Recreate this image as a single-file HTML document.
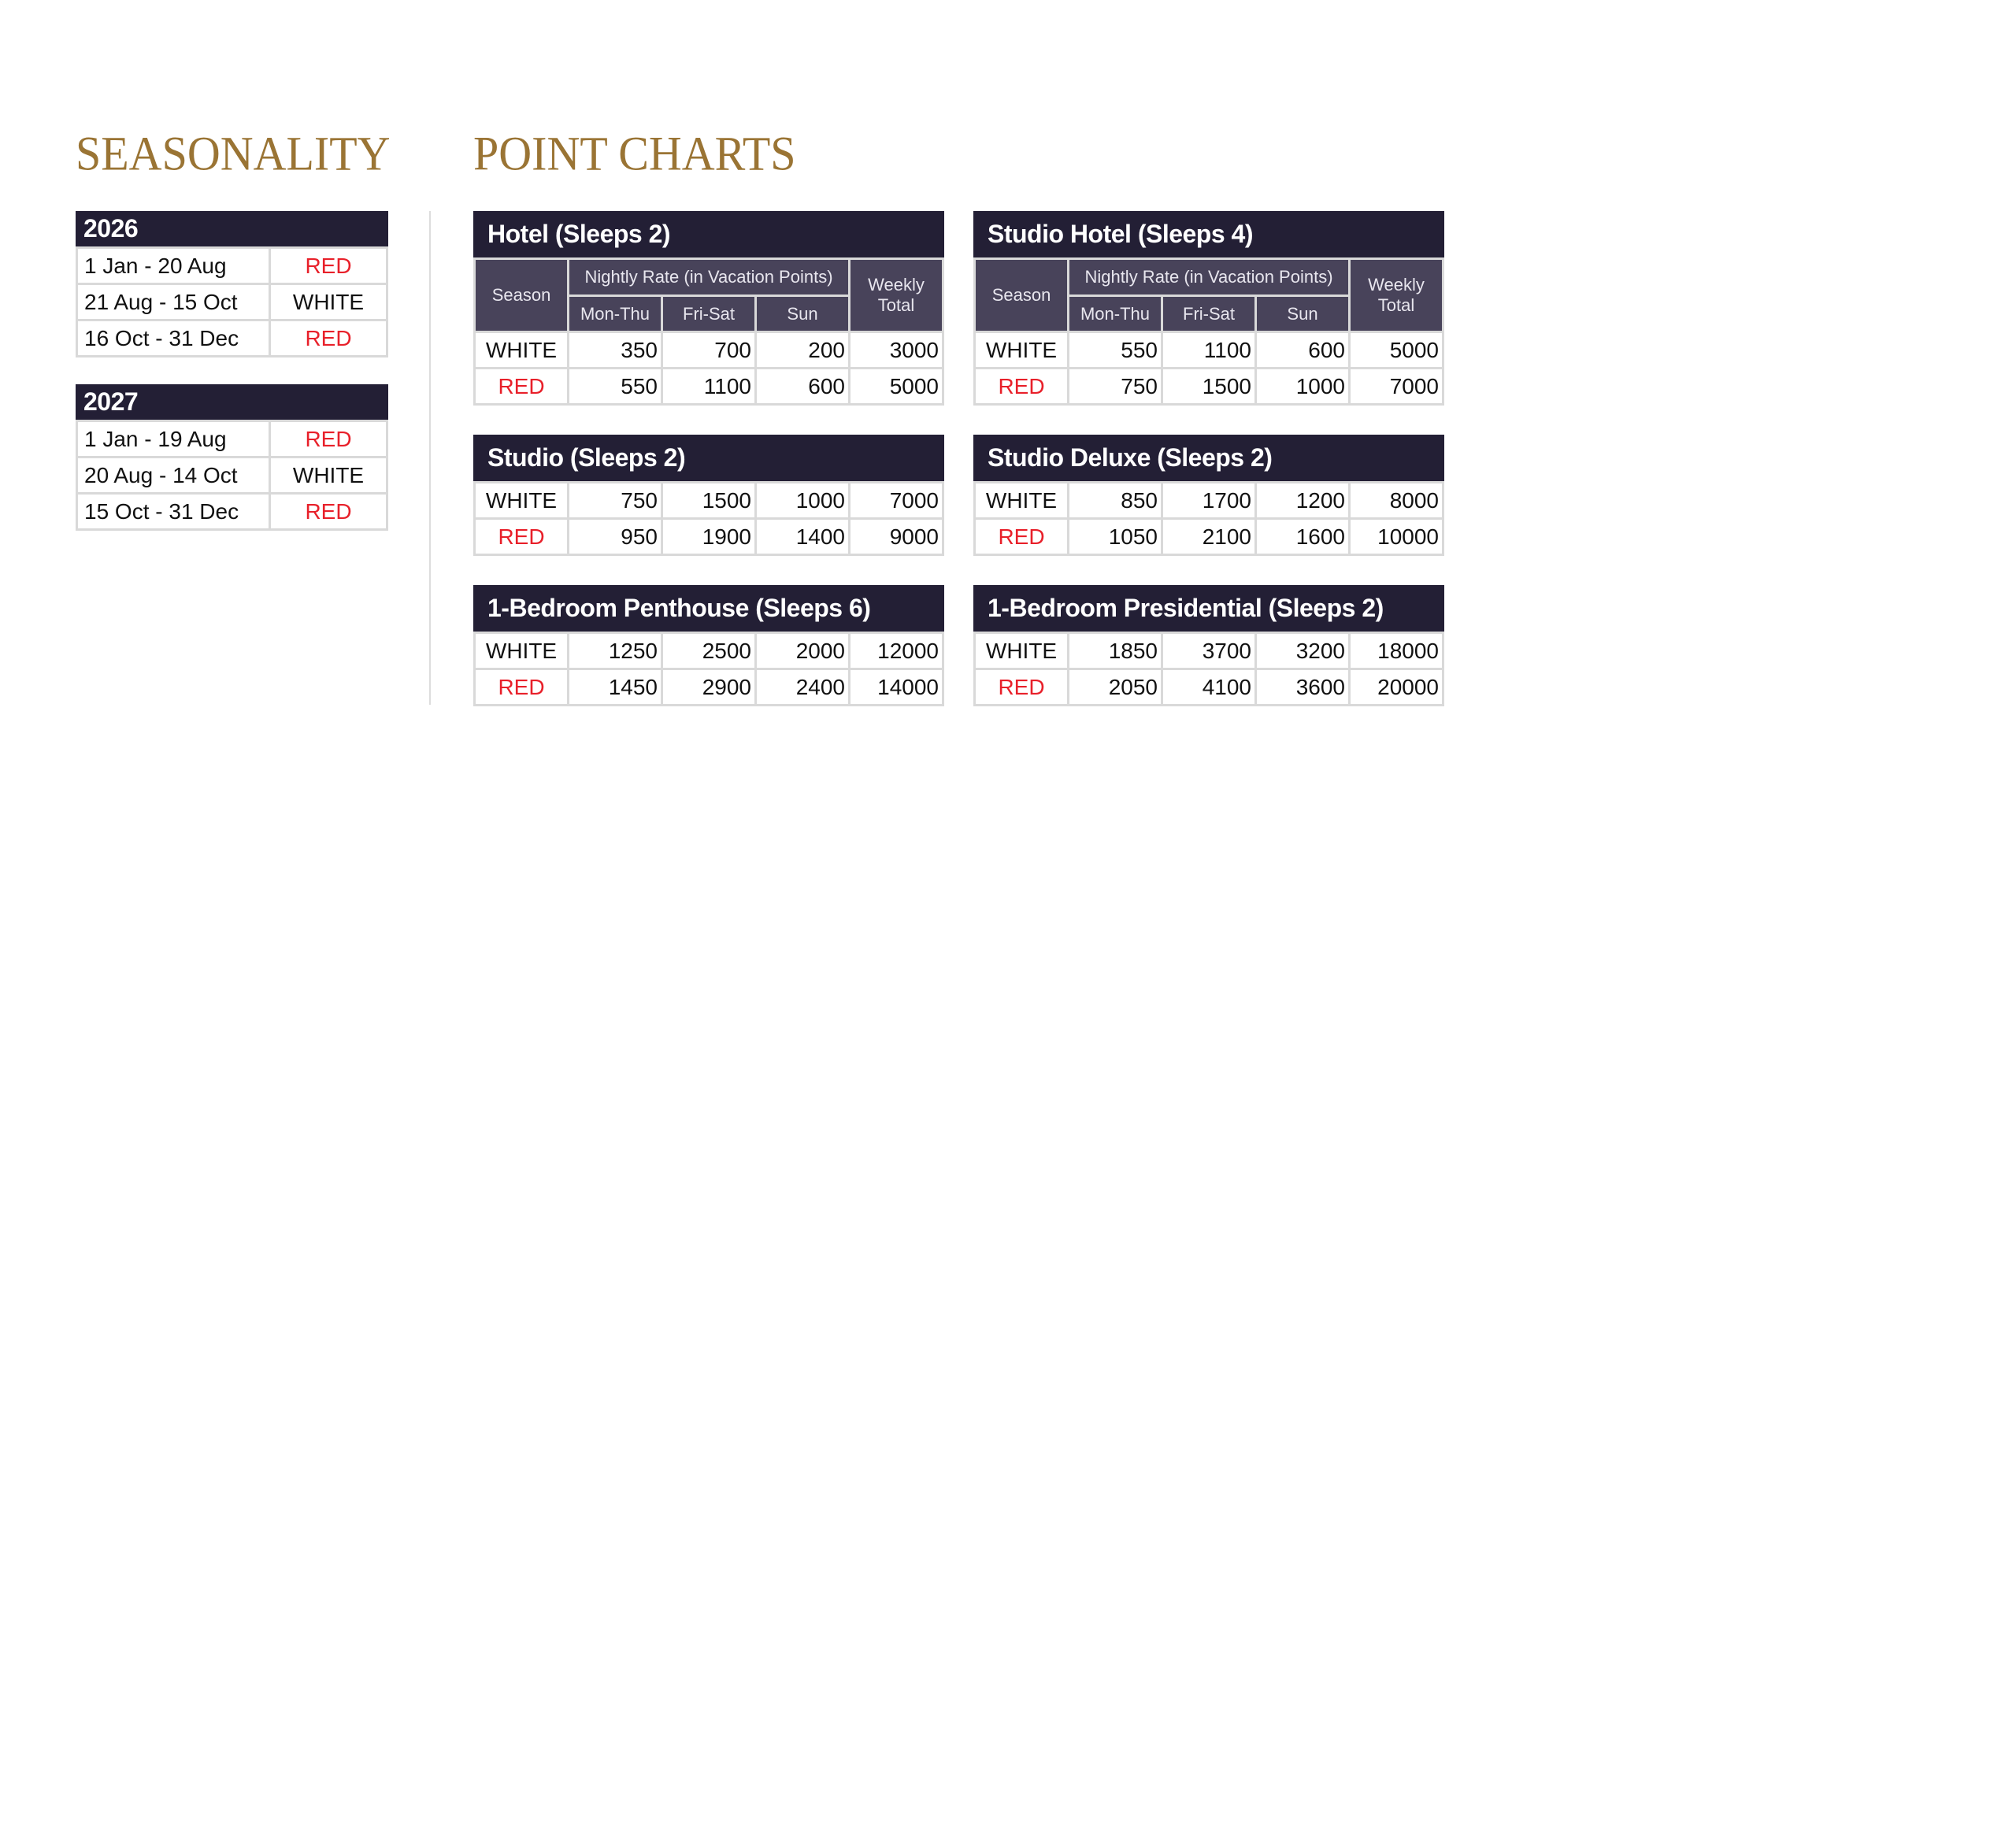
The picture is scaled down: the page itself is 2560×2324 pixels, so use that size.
<!DOCTYPE html>
<html><head><meta charset="utf-8"><style>
body{margin:0;width:2560px;height:2324px;background:#fff;position:relative;font-family:"Liberation Sans",sans-serif;overflow:hidden}
.h{position:absolute;top:164px;font-family:"Liberation Serif",serif;color:#9a7434;font-size:58px;letter-spacing:0;line-height:60px;transform:scaleY(1.05);transform-origin:top left}
.tb{position:absolute}
.tt{background:#231f35;color:#fff;font-weight:bold;font-size:32px;display:flex;align-items:center;padding-left:18px;box-sizing:border-box;letter-spacing:-0.5px}
.g{display:grid;background:#d9d9d9;gap:3px;padding:3px}
.g>div{background:#fff;display:flex;align-items:center;font-size:28px;color:#111}
.r{justify-content:flex-end;padding-right:4px}
.c{justify-content:center}
.red{color:#e8202a!important}
.s>div.hd{background:#48435a;color:#e8e6ee;font-size:22px;justify-content:center;text-align:center;line-height:26px}
.l{padding-left:8px}
.vl{position:absolute;left:545px;top:268px;width:2px;height:627px;background:#ddd}
</style></head><body>
<div class="h" style="left:96px">SEASONALITY</div>
<div class="h" style="left:601px">POINT CHARTS</div>
<div class="vl"></div>

<div class="tb" style="left:96px;top:268px;width:397px">
<div class="tt" style="height:45px;padding-left:10px;font-size:32px">2026</div>
<div class="g" style="grid-template-columns:242px 146px;grid-template-rows:43px 43px 43px">
<div class="l">1 Jan - 20 Aug</div><div class="c red">RED</div>
<div class="l">21 Aug - 15 Oct</div><div class="c">WHITE</div>
<div class="l">16 Oct - 31 Dec</div><div class="c red">RED</div>
</div></div>

<div class="tb" style="left:96px;top:488px;width:397px">
<div class="tt" style="height:45px;padding-left:10px;font-size:32px">2027</div>
<div class="g" style="grid-template-columns:242px 146px;grid-template-rows:43px 43px 43px">
<div class="l">1 Jan - 19 Aug</div><div class="c red">RED</div>
<div class="l">20 Aug - 14 Oct</div><div class="c">WHITE</div>
<div class="l">15 Oct - 31 Dec</div><div class="c red">RED</div>
</div></div>

<div class="tb" style="left:601px;top:268px;width:598px">
<div class="tt" style="height:59px">Hotel (Sleeps 2)</div>
<div class="g s" style="grid-template-columns:116px 116px 116px 116px 116px;grid-template-rows:44px 43px 43px 43px">
<div class="hd" style="grid-row:1/3;grid-column:1">Season</div><div class="hd" style="grid-row:1;grid-column:2/5">Nightly Rate (in Vacation Points)</div><div class="hd" style="grid-row:1/3;grid-column:5">Weekly<br>Total</div>
<div class="hd" style="grid-row:2;grid-column:2">Mon-Thu</div><div class="hd" style="grid-row:2;grid-column:3">Fri-Sat</div><div class="hd" style="grid-row:2;grid-column:4">Sun</div>
<div class="c" style="grid-row:3;grid-column:1">WHITE</div><div class="r">350</div><div class="r">700</div><div class="r">200</div><div class="r">3000</div>
<div class="c red" style="grid-row:4;grid-column:1">RED</div><div class="r">550</div><div class="r">1100</div><div class="r">600</div><div class="r">5000</div>
</div></div>

<div class="tb" style="left:1236px;top:268px;width:598px">
<div class="tt" style="height:59px">Studio Hotel (Sleeps 4)</div>
<div class="g s" style="grid-template-columns:116px 116px 116px 116px 116px;grid-template-rows:44px 43px 43px 43px">
<div class="hd" style="grid-row:1/3;grid-column:1">Season</div><div class="hd" style="grid-row:1;grid-column:2/5">Nightly Rate (in Vacation Points)</div><div class="hd" style="grid-row:1/3;grid-column:5">Weekly<br>Total</div>
<div class="hd" style="grid-row:2;grid-column:2">Mon-Thu</div><div class="hd" style="grid-row:2;grid-column:3">Fri-Sat</div><div class="hd" style="grid-row:2;grid-column:4">Sun</div>
<div class="c" style="grid-row:3;grid-column:1">WHITE</div><div class="r">550</div><div class="r">1100</div><div class="r">600</div><div class="r">5000</div>
<div class="c red" style="grid-row:4;grid-column:1">RED</div><div class="r">750</div><div class="r">1500</div><div class="r">1000</div><div class="r">7000</div>
</div></div>

<div class="tb" style="left:601px;top:552px;width:598px">
<div class="tt" style="height:59px">Studio (Sleeps 2)</div>
<div class="g" style="grid-template-columns:116px 116px 116px 116px 116px;grid-template-rows:43px 43px">
<div class="c">WHITE</div><div class="r">750</div><div class="r">1500</div><div class="r">1000</div><div class="r">7000</div>
<div class="c red">RED</div><div class="r">950</div><div class="r">1900</div><div class="r">1400</div><div class="r">9000</div>
</div></div>

<div class="tb" style="left:1236px;top:552px;width:598px">
<div class="tt" style="height:59px">Studio Deluxe (Sleeps 2)</div>
<div class="g" style="grid-template-columns:116px 116px 116px 116px 116px;grid-template-rows:43px 43px">
<div class="c">WHITE</div><div class="r">850</div><div class="r">1700</div><div class="r">1200</div><div class="r">8000</div>
<div class="c red">RED</div><div class="r">1050</div><div class="r">2100</div><div class="r">1600</div><div class="r">10000</div>
</div></div>

<div class="tb" style="left:601px;top:743px;width:598px">
<div class="tt" style="height:59px">1-Bedroom Penthouse (Sleeps 6)</div>
<div class="g" style="grid-template-columns:116px 116px 116px 116px 116px;grid-template-rows:43px 43px">
<div class="c">WHITE</div><div class="r">1250</div><div class="r">2500</div><div class="r">2000</div><div class="r">12000</div>
<div class="c red">RED</div><div class="r">1450</div><div class="r">2900</div><div class="r">2400</div><div class="r">14000</div>
</div></div>

<div class="tb" style="left:1236px;top:743px;width:598px">
<div class="tt" style="height:59px">1-Bedroom Presidential (Sleeps 2)</div>
<div class="g" style="grid-template-columns:116px 116px 116px 116px 116px;grid-template-rows:43px 43px">
<div class="c">WHITE</div><div class="r">1850</div><div class="r">3700</div><div class="r">3200</div><div class="r">18000</div>
<div class="c red">RED</div><div class="r">2050</div><div class="r">4100</div><div class="r">3600</div><div class="r">20000</div>
</div></div>
</body></html>
